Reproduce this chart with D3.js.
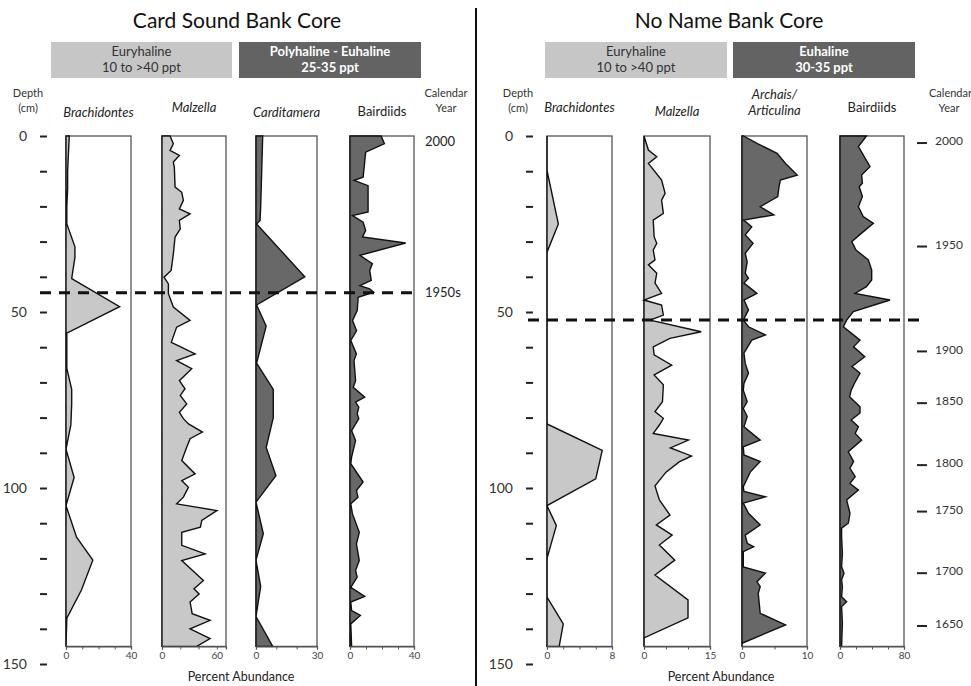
<!DOCTYPE html>
<html>
<head>
<meta charset="utf-8">
<script src="https://cdn.jsdelivr.net/npm/d3@7"></script>
<style>
  body { margin: 0; background: #fff; }
  svg { display: block; font-family: Lato, "Open Sans", sans-serif; }
</style>
</head>
<body>
<svg id="chart" width="971" height="686"></svg>
<script>
// ---- data: [depth (cm), percent abundance] ----
const csBrachidontes = [[0,2],[5,1.5],[10,1],[15,1],[20,0.5],[25,0.5],[31.5,5.5],[34.5,5.5],[40.5,3.5],[48.5,33],[56,0.5],[60,0.5],[66,0.5],[72,3.5],[76,3.5],[82,3],[89,0],[97,5],[105,0],[114,6.5],[120.5,16.5],[129,9.5],[137,0.5],[145,0]];
const csMalzella = [[0,8.8],[2.2,12.4],[4.1,8.8],[5.5,19],[7.4,12.4],[8.9,13.5],[14.5,14.3],[16,21.6],[18.3,23.4],[20.7,19],[22.1,30.7],[24,19],[26.4,20],[28.7,14.3],[33.5,12.4],[38.2,10],[40.1,2.2],[42,7],[44.8,7],[48.6,12.4],[52.4,30.7],[54.3,16],[58.6,10.2],[61.9,36.2],[63.8,16],[66.1,32.5],[69.5,19],[71.8,25.2],[73.7,20],[76.1,27],[78.5,19],[80.3,23.4],[81.8,29],[84.1,44.2],[86,30.7],[88.4,27],[92.2,21.6],[96,36.2],[97.9,21.6],[99.8,28.9],[102.6,23.4],[104.5,16],[106.4,60],[109.2,43.5],[111.1,42],[112.6,21.6],[116.3,21.6],[118.7,47.1],[120.6,21.6],[126.3,45.3],[128.6,35],[130.1,40.6],[132.4,30.7],[135.7,33],[137.6,52.6],[140,30.7],[142.8,52.6],[145,38]];
const csCarditamera = [[0,3.3],[10,2.8],[20,2.3],[24,2],[25,0.3],[40,24],[48,0.3],[54,5],[64.5,0.3],[72,8.5],[80,8.5],[88.5,5],[96.5,9.8],[104,0],[113,3.6],[120.5,0],[128,2.3],[136.5,0],[145,8.2]];
const csBairdiids = [[0,19.5],[2.2,21.5],[4.6,9.8],[11.7,8.2],[12.6,2.5],[14.1,11.3],[21.6,11.3],[22.6,1.6],[24.5,8.2],[26.8,9.8],[28.7,7.8],[30.4,34.8],[33.9,6.2],[36.3,14],[38.2,12.3],[41,13.3],[42.5,6.2],[43.4,12.3],[44.4,14.8],[45.8,5.1],[49.6,4.5],[52.4,1.6],[55.3,4.1],[58.1,0.5],[61.9,4],[63.8,2.5],[69.5,3.5],[71.4,2],[74.2,9.2],[75.6,3.5],[77,5.5],[78.9,4.5],[80.3,5.5],[83.7,1],[86.5,3.5],[88.4,2.5],[91.2,1],[93.1,0.5],[98.3,8.2],[100.7,4],[102.6,5],[104.5,0.5],[107.3,1.5],[112.6,5.8],[115.9,4],[120.6,5.8],[123.4,3.5],[125.3,4.5],[128.2,0.5],[130.8,9.2],[132.4,0.5],[134.8,1],[136.2,6.5],[138.6,0.5],[145,1]];

const nnBrachidontes = [[0,0],[9.8,0],[25,1.4],[33,0],[81.8,0],[89.3,6.8],[97.4,6],[105,0],[110.7,1.15],[120,0],[131,0],[138.6,2],[145,1.5]];
const nnMalzella = [[0,0],[4,1],[5.9,2.9],[7.8,1],[12.5,4],[16.3,4.8],[18.2,4],[22,4.4],[23.9,2.1],[28.6,2.3],[30.5,2.9],[32.4,2.1],[35.2,2.5],[36.6,1],[39,2.9],[41.8,2.5],[44.7,4],[46.6,0],[48,4],[50.9,4.4],[52.3,1.4],[55.6,13],[57.5,5.9],[59.9,2.1],[62.2,2.3],[65.1,6.3],[67.9,2.3],[70.7,4.4],[75.5,4.2],[78.3,2.5],[80.2,4.4],[82.1,3.5],[84.5,2.1],[86.4,10.1],[88.6,6],[90.9,10.8],[92.6,8],[95.5,5],[99.4,2.5],[103.4,3.5],[107.7,5.9],[110.5,2.8],[113.4,6.4],[116.2,3.5],[120.5,7],[124.7,2.5],[131.8,10],[136.9,10],[142.6,0],[145,0]];
const nnArchais = [[0,0.25],[2.1,2.3],[4.9,5.4],[7.8,6.7],[11.1,8.5],[12.5,5.9],[14.4,5.7],[17.2,5.5],[20.1,2.8],[22.4,4.9],[23.9,0.25],[25.8,1.5],[28.1,0.5],[30.5,1.7],[33.3,0.5],[35.7,0.8],[39,0.5],[40.4,1],[41.8,0.3],[44.7,2.3],[46.6,0.3],[49.4,1],[52.3,0.2],[54.2,1],[56.5,3.6],[58,1.5],[61.7,0.3],[64.6,0.5],[67.4,1],[70.3,0.3],[72.2,0.2],[75.5,0.8],[77.4,0.2],[79.7,0.8],[82.6,0.3],[86.4,2.8],[88.3,0.2],[90.6,0.3],[92.5,2.8],[95.4,1.3],[99.6,0.2],[101,0.3],[102.5,3.6],[104.3,0.2],[107.2,1],[110.5,2.8],[113.4,0.5],[115.7,0.8],[116.7,1.8],[118.1,0.2],[122.4,0.2],[124.2,3.6],[126.6,2.3],[128,2.8],[129.9,2.5],[135.6,2.8],[138.9,6.7],[144.1,0],[145,0]];
const nnBairdiids = [[0,33],[3,23],[8.7,37.5],[11.1,27],[13.4,28],[14.4,24],[17.2,28],[20.1,23],[22.9,29],[24.8,41.7],[27.6,27],[30,14.6],[32.4,20],[35.2,35.4],[38.1,39.6],[40.9,39.6],[42.8,33],[44.7,18.8],[46.6,62.5],[49.9,16.7],[52.3,8.3],[54.2,4.2],[58,25],[59.9,17],[62.7,31],[65.5,15],[67.4,25],[70.3,18],[72.2,14],[74.1,12],[76.9,25],[78.7,25],[80.7,14],[82.6,23],[84.5,19],[86.4,27],[89.7,10.4],[92.5,17],[94.4,12.5],[96.8,19],[98.7,12.5],[100.6,23],[103.4,8.3],[107.2,12.5],[110,10.4],[111.4,2],[113.8,2],[118.6,3],[122.4,2],[124.2,5],[126.1,2],[128,3],[130.9,2],[132.3,8.3],[133.7,2],[138.4,3],[145,2]];

// calendar years (right core) and markers
const nnYears = ["2000", "1950", "1900", "1850", "1800", "1750", "1700", "1650"];
const nnYearDepths = [2.0, 31.4, 61.2, 75.9, 93.5, 106.7, 124.2, 139.2];
const csYears = ["2000", "1950s"];
const csYearDepths = [1.5, 44.5];
const dashDepths = [44.5, 52.3];

const depthTicks = d3.range(0, 151, 10);
const depthLabels = [0, 50, 100, 150];
const coreTitles = ["Card Sound Bank Core", "No Name Bank Core"];

const LIGHT = "#c8c8c8";
const DARK = "#686868";

const panels = [
  { core: 0, name: ["Brachidontes"], italic: true, ly: 117, x0: 66, x1: 131, max: 40, ticks: [0, 10, 20, 30, 40], labels: [0, 40], fill: LIGHT, data: csBrachidontes },
  { core: 0, name: ["Malzella"], italic: true, ly: 112, x0: 162, x1: 226, max: 70, ticks: [0, 20, 40, 60], labels: [0, 60], fill: LIGHT, data: csMalzella },
  { core: 0, name: ["Carditamera"], italic: true, ly: 117, x0: 256, x1: 317, max: 30, ticks: [0, 10, 20, 30], labels: [0, 30], fill: DARK, data: csCarditamera },
  { core: 0, name: ["Bairdiids"], italic: false, ly: 116, x0: 350, x1: 414, max: 40, ticks: [0, 10, 20, 30, 40], labels: [0, 40], fill: DARK, data: csBairdiids },
  { core: 1, name: ["Brachidontes"], italic: true, ly: 112, x0: 547, x1: 612, max: 8, ticks: [0, 2, 4, 6, 8], labels: [0, 8], fill: LIGHT, data: nnBrachidontes },
  { core: 1, name: ["Malzella"], italic: true, ly: 116, x0: 644, x1: 710, max: 15, ticks: [0, 5, 10, 15], labels: [0, 15], fill: LIGHT, data: nnMalzella },
  { core: 1, name: ["Archais/", "Articulina"], italic: true, ly: 99, x0: 742, x1: 807, max: 10, ticks: [0, 5, 10], labels: [0, 10], fill: DARK, data: nnArchais },
  { core: 1, name: ["Bairdiids"], italic: false, ly: 112, x0: 840, x1: 904, max: 80, ticks: [0, 20, 40, 60, 80], labels: [0, 80], fill: DARK, data: nnBairdiids }
];

const headers = [
  { x0: 51, x1: 232, lines: ["Euryhaline", "10 to >40 ppt"], dark: false },
  { x0: 239, x1: 421, lines: ["Polyhaline - Euhaline", "25-35 ppt"], dark: true },
  { x0: 545, x1: 727, lines: ["Euryhaline", "10 to >40 ppt"], dark: false },
  { x0: 733, x1: 915, lines: ["Euhaline", "30-35 ppt"], dark: true }
];

const svg = d3.select("#chart");
const y = d3.scaleLinear().domain([0, 150]).range([136, 664]);

// divider
svg.append("line")
  .attr("x1", 476).attr("x2", 476).attr("y1", 8).attr("y2", 686)
  .attr("stroke", "#111").attr("stroke-width", 2);

// titles
[237, 729].forEach((cx, i) => {
  svg.append("text")
    .attr("x", cx).attr("y", 28)
    .attr("text-anchor", "middle")
    .style("font-size", "21px")
    .attr("fill", "#111")
    .text(coreTitles[i]);
});

// salinity header boxes
headers.forEach(h => {
  svg.append("rect")
    .attr("x", h.x0).attr("y", 42)
    .attr("width", h.x1 - h.x0).attr("height", 36)
    .attr("fill", h.dark ? "#636363" : "#c6c6c6");
  h.lines.forEach((t, i) => {
    svg.append("text")
      .attr("x", (h.x0 + h.x1) / 2).attr("y", 56 + i * 16)
      .attr("text-anchor", "middle")
      .style("font-size", "13px")
      .style("font-weight", h.dark ? "700" : "400")
      .attr("fill", h.dark ? "#fff" : "#333")
      .text(t);
  });
});

// small column headers
function smallLabel(x, yy, lines, anchor) {
  lines.forEach((t, i) => {
    svg.append("text")
      .attr("x", x).attr("y", yy + i * 15)
      .attr("text-anchor", anchor || "middle")
      .style("font-size", "11px")
      .attr("fill", "#333")
      .text(t);
  });
}
smallLabel(28, 97, ["Depth", "(cm)"]);
smallLabel(446, 97, ["Calendar", "Year"]);
smallLabel(518, 97, ["Depth", "(cm)"]);
svg.append("text").attr("x", 929).attr("y", 97)
  .style("font-size", "11px").attr("fill", "#333").text("Calendar");
svg.append("text").attr("x", 949).attr("y", 112).attr("text-anchor", "middle")
  .style("font-size", "11px").attr("fill", "#333").text("Year");

// depth axes
[{ x: 47 }, { x: 533 }].forEach(a => {
  const g = svg.append("g")
    .attr("transform", `translate(${a.x},0)`)
    .call(d3.axisLeft(y).tickValues(depthTicks).tickSize(7).tickPadding(13)
      .tickFormat(d => depthLabels.includes(d) ? d : ""));
  g.select(".domain").remove();
  g.selectAll(".tick line").attr("stroke", "#222").attr("stroke-width", 2);
  g.selectAll(".tick text")
    .style("font-size", "14px")
    .style("font-family", "Lato, sans-serif")
    .style("fill", "#333");
});

// panels
panels.forEach(p => {
  const x = d3.scaleLinear().domain([0, p.max]).range([p.x0, p.x1]);
  const g = svg.append("g");

  g.append("rect")
    .attr("x", p.x0).attr("y", y(0))
    .attr("width", p.x1 - p.x0).attr("height", y(145) - y(0))
    .attr("fill", "#fff")
    .attr("stroke", "#555").attr("stroke-width", 1.3);

  const area = d3.area()
    .y(d => y(d[0]))
    .x0(x(0))
    .x1(d => x(d[1]));

  g.append("path")
    .datum(p.data)
    .attr("d", area)
    .attr("fill", p.fill)
    .attr("stroke", "#111")
    .attr("stroke-width", 1.4)
    .attr("stroke-linejoin", "miter");

  const ax = g.append("g")
    .attr("transform", `translate(0,${y(145)})`)
    .call(d3.axisBottom(x).tickValues(p.ticks).tickSize(3).tickPadding(3)
      .tickFormat(d => p.labels.includes(d) ? d : ""));
  ax.select(".domain").attr("stroke", "#555").attr("stroke-width", 1.3);
  ax.selectAll(".tick line").attr("stroke", "#555");
  ax.selectAll(".tick text")
    .style("font-size", "10px")
    .style("font-family", "Lato, sans-serif")
    .style("fill", "#444");

  p.name.forEach((t, i) => {
    g.append("text")
      .attr("x", (p.x0 + p.x1) / 2).attr("y", p.ly + i * 16)
      .attr("text-anchor", "middle")
      .style("font-size", "13px")
      .style("font-style", p.italic ? "italic" : "normal")
      .attr("fill", "#222")
      .text(t);
  });
});

// dashed horizon lines
svg.append("line")
  .attr("x1", 40).attr("x2", 418)
  .attr("y1", y(dashDepths[0])).attr("y2", y(dashDepths[0]))
  .attr("stroke", "#111").attr("stroke-width", 3).attr("stroke-dasharray", "11,8");
svg.append("line")
  .attr("x1", 528).attr("x2", 922)
  .attr("y1", y(dashDepths[1])).attr("y2", y(dashDepths[1]))
  .attr("stroke", "#111").attr("stroke-width", 3).attr("stroke-dasharray", "11,8");

// calendar years
csYears.forEach((t, i) => {
  svg.append("text")
    .attr("x", 425).attr("y", y(csYearDepths[i]))
    .attr("dy", "0.35em")
    .style("font-size", "13px")
    .attr("fill", "#222")
    .text(t);
});
nnYears.forEach((t, i) => {
  const yy = y(nnYearDepths[i]);
  svg.append("line")
    .attr("x1", 917).attr("x2", 927).attr("y1", yy).attr("y2", yy)
    .attr("stroke", "#222").attr("stroke-width", 2);
  svg.append("text")
    .attr("x", 935).attr("y", yy - 2)
    .attr("dy", "0.35em")
    .style("font-size", "12px")
    .attr("fill", "#333")
    .text(t);
});

// x-axis titles
[241, 721].forEach(cx => {
  svg.append("text")
    .attr("x", cx).attr("y", 681)
    .attr("text-anchor", "middle")
    .style("font-size", "12.5px")
    .attr("fill", "#222")
    .text("Percent Abundance");
});
</script>
</body>
</html>
